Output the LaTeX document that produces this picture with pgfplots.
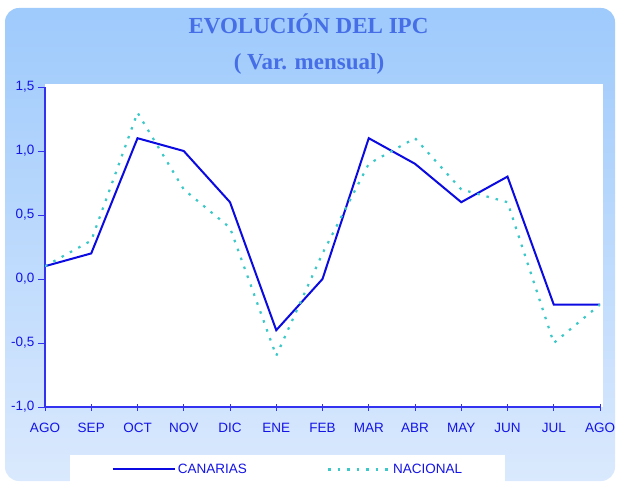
\documentclass[border=0pt]{standalone}
\usepackage{pgfplots}
\pgfplotsset{compat=1.18}
\usepackage{fontspec}
\setmainfont{Liberation Sans}
\newfontfamily\titlefont{Liberation Serif}
\definecolor{bgtop}{RGB}{158,202,252}
\definecolor{bgbot}{RGB}{218,233,253}
\definecolor{ttl}{RGB}{70,110,230}
\definecolor{axblue}{RGB}{50,50,240}
\definecolor{lblue}{RGB}{20,20,230}
\definecolor{canblue}{RGB}{10,10,225}
\definecolor{nacteal}{RGB}{60,200,200}
\begin{document}
\begin{tikzpicture}
\useasboundingbox (0pt,0pt) rectangle (617pt,482pt);
\begin{scope}
\clip (0pt,0pt) rectangle (617pt,482pt);
\shade[top color=bgtop,bottom color=bgbot,rounded corners=14pt] (5pt,1pt) rectangle (615pt,474pt);
\end{scope}
\fill[white] (45pt,75pt) rectangle (603pt,398pt);
\fill[white] (70pt,0pt) rectangle (505pt,27pt);
\node[ttl, anchor=base, font=\titlefont\bfseries\fontsize{23}{27}\selectfont] at (308.5pt,448pt) {EVOLUCIÓN DEL IPC};
\node[ttl, anchor=base, font=\titlefont\bfseries\fontsize{23}{27}\selectfont] at (309pt,412pt) {( Var. mensual)};
\begin{axis}[
  at={(45pt,75pt)}, anchor=south west,
  scale only axis, width=555pt, height=320pt,
  xmin=0, xmax=12, ymin=-1, ymax=1.5,
  axis x line*=bottom, axis y line*=left,
  axis line style={-, draw=axblue, line width=1.1pt},
  xtick={0,...,12},
  xticklabels={AGO,SEP,OCT,NOV,DIC,ENE,FEB,MAR,ABR,MAY,JUN,JUL,AGO},
  ytick={-1,-0.5,0,0.5,1,1.5},
  xtick align=center, ytick align=outside,
  major tick length=7pt,
  tick style={draw=axblue, line width=0.9pt},
  tick label style={font=\fontsize{13.5}{15}\selectfont, text=lblue},
  xticklabel style={yshift=-9pt},
  /pgf/number format/assume math mode=true,
  yticklabel style={/pgf/number format/.cd, use comma, fixed, fixed zerofill, precision=1},
  legend columns=2,
  legend style={at={(0.438,-0.195)}, anchor=center, draw=none, fill=none,
    font=\fontsize{13.5}{15}\selectfont, text=lblue,
    /tikz/every even column/.append style={column sep=78pt}},
  legend image code/.code={\draw[#1] (0pt,0pt) -- (62pt,0pt);},
]
\addplot[canblue, line width=2pt] coordinates {(0,0.1)(1,0.2)(2,1.1)(3,1.0)(4,0.6)(5,-0.4)(6,0)(7,1.1)(8,0.9)(9,0.6)(10,0.8)(11,-0.2)(12,-0.2)};
\addlegendentry{CANARIAS}
\addplot[nacteal, line width=2.2pt, dash pattern=on 2.5pt off 7pt] coordinates {(0,0.1)(1,0.3)(2,1.3)(3,0.7)(4,0.4)(5,-0.6)(6,0.2)(7,0.9)(8,1.1)(9,0.7)(10,0.6)(11,-0.5)(12,-0.2)};
\addlegendentry{NACIONAL}
\end{axis}
\end{tikzpicture}
\end{document}
